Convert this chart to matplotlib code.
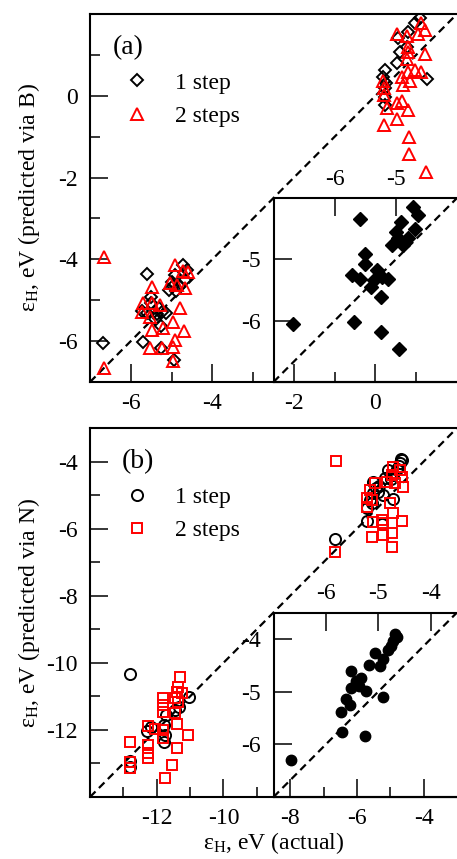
import matplotlib
matplotlib.use('Agg')
import matplotlib.pyplot as plt
from matplotlib.ticker import FixedLocator

plt.rcParams['font.family'] = ['Liberation Serif', 'DejaVu Serif']
plt.rcParams['mathtext.fontset'] = 'custom'
plt.rcParams['mathtext.rm'] = 'Liberation Serif'
plt.rcParams['mathtext.it'] = 'Liberation Serif:italic'
plt.rcParams['axes.unicode_minus'] = False

# ---- panel (a): predicted via B ----
# 1 step, upper cluster
a1_hi_x = [1.09, 0.97, 0.80, 0.55, 0.60, 0.77, 0.53, 0.23, 0.18, 0.26, 0.23, 0.23, 0.23, 1.26]
a1_hi_y = [1.91, 1.79, 1.55, 1.42, 1.08, 1.20, 0.81, 0.64, 0.47, 0.32, 0.18, -0.02, -0.22, 0.40]
# 1 step, lower cluster (also shown in the inset)
a1_lo_x = [-4.72, -4.63, -4.92, -4.68, -5.59, -4.99, -5.07, -4.88, -4.80, -4.97, -5.51, -5.50,
           -5.72, -5.59, -5.30, -5.23, -5.13, -5.35, -5.40, -5.25, -6.68, -5.69, -5.25, -4.95]
a1_lo_y = [-4.14, -4.27, -4.39, -4.50, -4.35, -4.55, -4.76, -4.77, -4.66, -4.66, -4.91, -5.07,
           -5.26, -5.32, -5.18, -5.29, -5.32, -5.34, -5.45, -5.62, -6.05, -6.02, -6.18, -6.46]
# 2 steps
a2_x = [1.12, 1.21, 0.53, 0.77, 1.04, 0.80, 0.80, 1.21, 0.77, 0.80, 0.97, 1.12, 0.65, 0.85,
        0.68, 0.18, 0.21, 0.21, 0.28, 0.53, 0.65, 0.80, 0.53, 0.21, 0.82, 0.82, 1.24,
        -6.66, -4.92, -4.72, -4.60, -5.04, -4.87, -4.67, -5.48, -5.70, -5.48, -5.28, -5.72,
        -4.79, -5.53, -4.96, -5.21, -5.48, -4.69, -4.92, -4.96, -5.53, -5.23, -4.96, -6.66]
a2_y = [1.79, 1.62, 1.52, 1.45, 1.50, 1.20, 1.08, 1.01, 0.89, 0.59, 0.64, 0.59, 0.47, 0.37,
        0.27, 0.37, 0.18, 0.03, -0.29, -0.17, -0.12, -0.34, -0.58, -0.71, -1.00, -1.42, -1.86,
        -3.94, -4.14, -4.28, -4.31, -4.58, -4.63, -4.70, -4.67, -5.07, -5.07, -5.12, -5.29,
        -5.19, -5.41, -5.53, -5.68, -5.73, -5.75, -5.97, -6.14, -6.17, -6.17, -6.49, -6.66]

# ---- panel (b): predicted via N ----
# 1 step, upper cluster (also shown in the inset)
b1_hi_x = [-4.69, -4.65, -4.72, -4.75, -4.81, -5.07, -4.91, -5.17, -4.97, -5.52, -5.33,
           -5.42, -5.52, -5.36, -5.23, -4.91, -5.62, -5.55, -5.71, -5.70, -5.25, -6.66]
b1_hi_y = [-3.91, -3.96, -4.04, -4.14, -4.22, -4.26, -4.39, -4.50, -4.52, -4.61, -4.74,
           -4.80, -4.93, -4.90, -4.99, -5.11, -5.15, -5.25, -5.39, -5.77, -5.85, -6.30]
# 1 step, lower cluster
b1_lo_x = [-12.80, -11.03, -11.33, -11.45, -11.72, -11.78, -12.17, -12.29, -11.75, -11.78, -12.80, -12.80]
b1_lo_y = [-10.34, -11.03, -11.33, -11.42, -11.57, -11.84, -11.90, -12.04, -12.16, -12.37, -12.94, -13.12]
# 2 steps
b2_x = [-6.63, -4.92, -4.71, -4.95, -4.65, -5.10, -5.46, -4.86, -4.62, -5.70, -5.55, -5.70,
        -5.01, -4.92, -5.25, -4.65, -5.52, -5.55, -5.22, -4.95, -4.95, -6.66, -5.22, -5.61,
        -11.30, -11.36, -11.39, -11.24, -11.45, -11.36, -11.81, -11.81, -11.81, -11.45, -11.39,
        -12.26, -12.05, -11.81, -11.06, -11.81, -12.80, -12.26, -11.39, -12.26, -12.26, -12.80,
        -12.80, -11.54, -11.75]
b2_y = [-3.99, -4.16, -4.25, -4.40, -4.46, -4.61, -4.64, -4.64, -4.76, -5.09, -5.15, -5.36,
        -5.24, -5.54, -5.75, -5.78, -5.81, -6.25, -6.19, -6.13, -6.55, -6.70, -5.84, -4.85,
        -10.43, -10.73, -10.88, -10.91, -11.06, -11.18, -11.06, -11.27, -11.48, -11.51, -11.81,
        -11.87, -11.96, -12.01, -12.16, -12.25, -12.37, -12.46, -12.55, -12.70, -12.85, -12.97,
        -13.15, -13.06, -13.42]

RED = '#ff0000'
TICK_FS = 17
DASH = (0, (3.5, 2.2))

fig = plt.figure(figsize=(4.57, 8.59), dpi=100)
W, H = 457.0, 859.0


def style_main(ax, xmaj, xmin, ymaj, ymin):
    ax.set_xticks(xmaj)
    ax.set_yticks(ymaj)
    ax.xaxis.set_minor_locator(FixedLocator(xmin))
    ax.yaxis.set_minor_locator(FixedLocator(ymin))
    ax.tick_params(which='both', direction='in', top=False, right=False, width=1.1,
                   labelsize=TICK_FS)
    ax.tick_params(which='major', length=13)
    ax.tick_params(which='minor', length=7)
    ax.tick_params(axis='y', pad=9)
    ax.tick_params(axis='x', pad=8)
    for s in ax.spines.values():
        s.set_linewidth(1.5)
    ax.spines['right'].set_visible(False)


def make_inset(ax, main_lim, top_lim, bmaj, bmin, tmaj, x, y, marker, ms):
    ins = ax.inset_axes([0.5, 0.0, 0.5, 0.5])
    ins.set_xlim(top_lim)
    ins.set_ylim(top_lim)
    ins.axline((top_lim[0], top_lim[0]), slope=1, ls=DASH, color='k', lw=1.6)
    ins.plot(x, y, ls='none', marker=marker, color='k', ms=ms)
    ins.set_xticks(tmaj)
    ins.set_yticks(tmaj)
    ins.tick_params(which='both', direction='in', top=True, bottom=False, labeltop=True,
                    labelbottom=False, right=False, width=1.1, length=13, labelsize=TICK_FS)
    ins.tick_params(axis='x', pad=6)
    ins.tick_params(axis='y', pad=9)
    for s in ins.spines.values():
        s.set_linewidth(1.5)
    ins.spines['right'].set_visible(False)
    # bottom axis continues the scale of the main panel
    m0 = (main_lim[0] + main_lim[1]) / 2
    a = (main_lim[1] - m0) / (top_lim[1] - top_lim[0])
    fwd = lambda t: m0 + (t - top_lim[0]) * a
    inv = lambda m: top_lim[0] + (m - m0) / a
    sec = ins.secondary_xaxis('bottom', functions=(fwd, inv))
    sec.set_xticks(bmaj)
    sec.xaxis.set_minor_locator(FixedLocator(bmin))
    sec.tick_params(which='both', direction='in', width=1.1, labelsize=TICK_FS, pad=8)
    sec.tick_params(which='major', length=13)
    sec.tick_params(which='minor', length=7)
    sec.spines['bottom'].set_linewidth(1.5)
    return ins


def add_legend(ax):
    ax.legend(loc='upper left', bbox_to_anchor=(0.096, 0.842), frameon=False, fontsize=17,
              handlelength=1.0, handletextpad=1.1, labelspacing=0.5, borderpad=0,
              borderaxespad=0, numpoints=1)


# ---------------- panel (a) ----------------
axa = fig.add_axes([90 / W, 1 - 382 / H, 367 / W, 368 / H])
axa.set_xlim(-7, 2)
axa.set_ylim(-7, 2)
axa.axline((0, 0), slope=1, ls=DASH, color='k', lw=1.6)
axa.plot(a1_hi_x + a1_lo_x, a1_hi_y + a1_lo_y, ls='none', marker='D', mfc='none',
         mec='k', mew=1.4, ms=6.5, label='1 step')
axa.plot(a2_x, a2_y, ls='none', marker='^', mfc='none', mec=RED, mew=1.4, ms=9,
         label='2 steps')
style_main(axa, [-6, -4], [-5, -3], [-6, -4, -2, 0], [-5, -3, -1, 1])
axa.set_ylabel(r'ε$_{\mathrm{H}}$, eV (predicted via B)', fontsize=17)
axa.yaxis.set_label_coords(-0.13, 0.5)
axa.text(0.063, 0.91, '(a)', transform=axa.transAxes, fontsize=20, va='center', ha='left')
add_legend(axa)
make_inset(axa, (-7, 2), (-7, -4), [-2, 0], [-1, 1], [-6, -5], a1_lo_x, a1_lo_y, 'D', 7.5)

# ---------------- panel (b) ----------------
axb = fig.add_axes([90 / W, 1 - 797 / H, 367 / W, 369 / H])
axb.set_xlim(-14, -3)
axb.set_ylim(-14, -3)
axb.axline((-14, -14), slope=1, ls=DASH, color='k', lw=1.6)
axb.plot(b1_hi_x + b1_lo_x, b1_hi_y + b1_lo_y, ls='none', marker='o', mfc='none',
         mec='k', mew=1.4, ms=8, label='1 step')
axb.plot(b2_x, b2_y, ls='none', marker='s', mfc='none', mec=RED, mew=1.4, ms=7.5,
         label='2 steps')
style_main(axb, [-12, -10], [-13, -11, -9], [-12, -10, -8, -6, -4], [-13, -11, -9, -7, -5])
axb.set_ylabel(r'ε$_{\mathrm{H}}$, eV (predicted via N)', fontsize=17)
axb.yaxis.set_label_coords(-0.13, 0.5)
axb.set_xlabel(r'ε$_{\mathrm{H}}$, eV (actual)', fontsize=17, labelpad=1)
axb.text(0.087, 0.908, '(b)', transform=axb.transAxes, fontsize=20, va='center', ha='left')
add_legend(axb)
make_inset(axb, (-14, -3), (-7, -3.5), [-8, -6, -4], [-7, -5], [-6, -5, -4],
           b1_hi_x, b1_hi_y, 'o', 7.5)

fig.savefig('out.png', dpi=100)
